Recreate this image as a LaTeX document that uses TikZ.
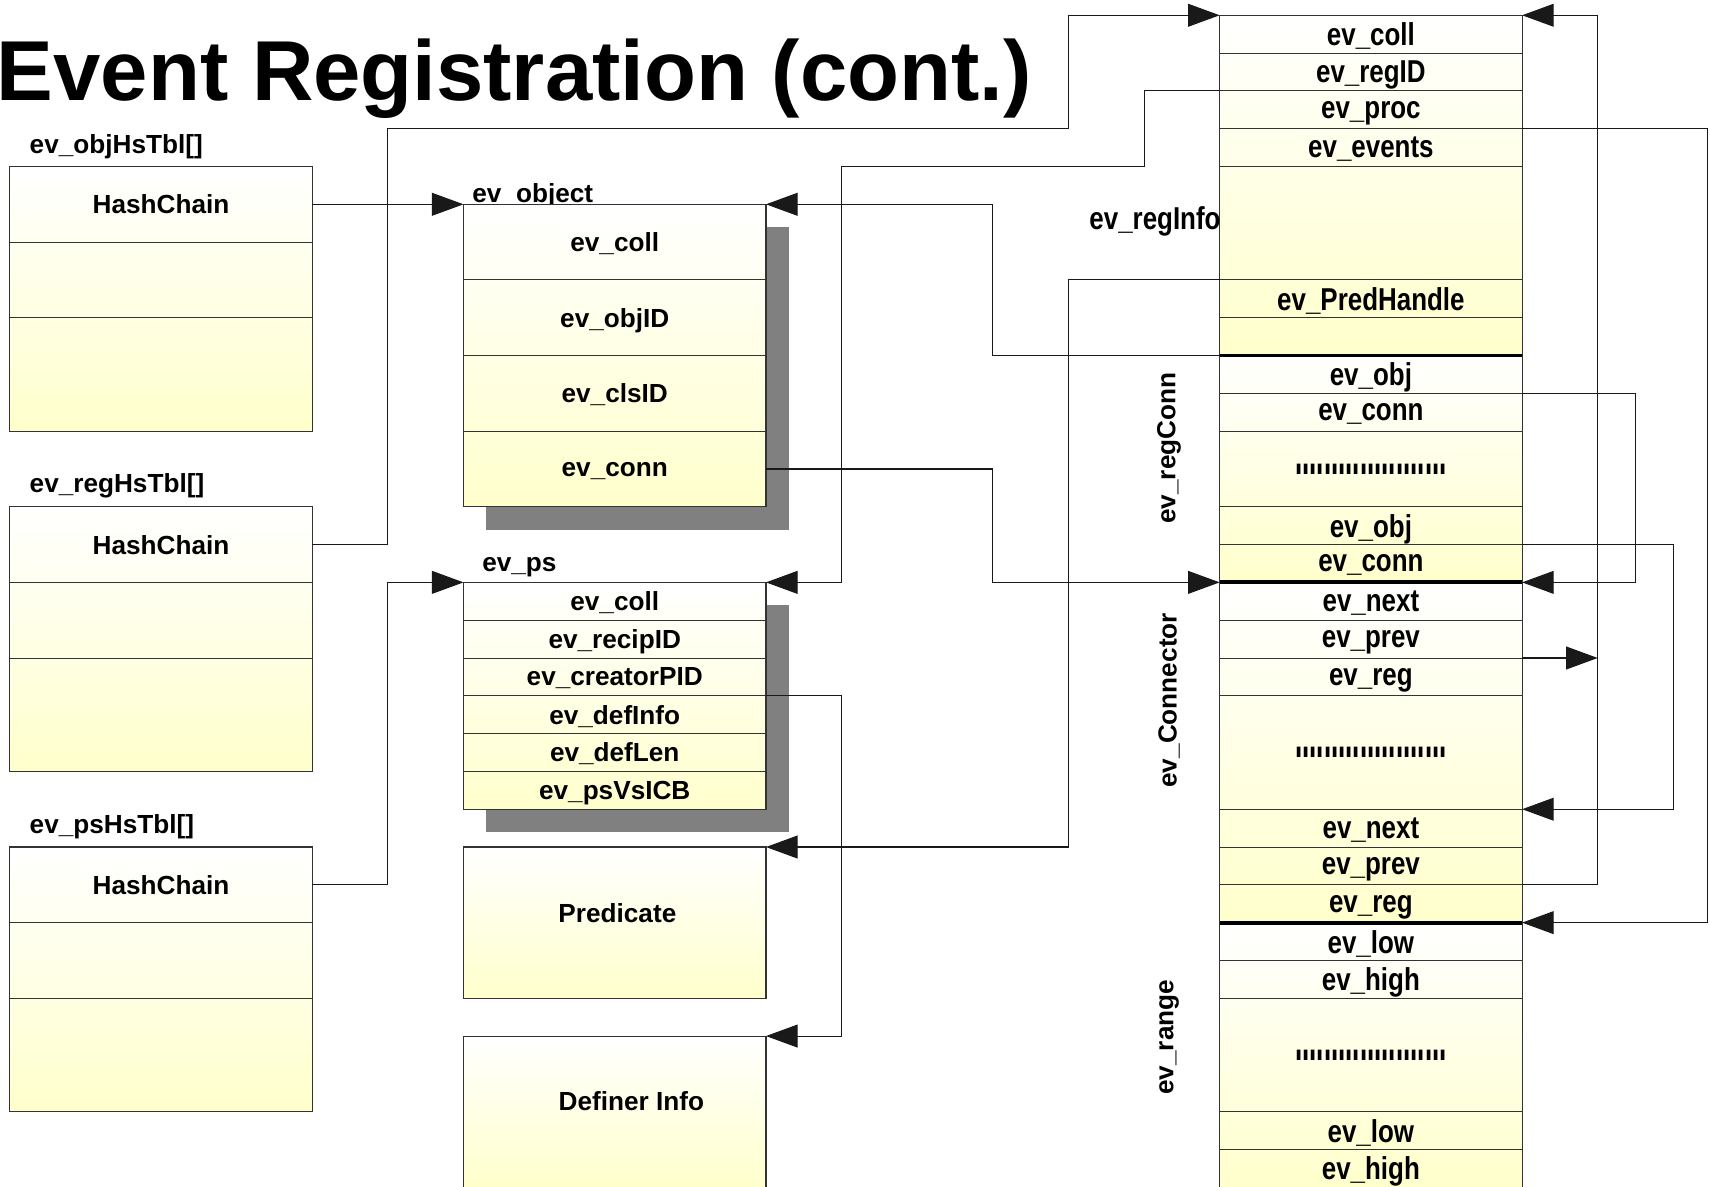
\documentclass[tikz,border=0pt]{standalone}
\usepackage{fontspec}
\usepackage{graphicx}
\setmainfont{Liberation Sans}
\newfontfamily\narrowsf{Liberation Sans}[FakeStretch=0.82]
\usetikzlibrary{arrows.meta,positioning,shadows}
\definecolor{evyellow}{HTML}{FFFFCC}
\definecolor{evshadow}{HTML}{808080}
\newcommand{\gu}{34.667pt} % height of one table row
\newcommand{\midfont}{\fontsize{24}{28}\selectfont\bfseries}
\newcommand{\colfont}{\narrowsf\fontsize{29}{32}\selectfont\bfseries}
\newcommand{\rowdots}{\scalebox{1}[2.2]{.....................}}

\begin{document}
\begin{tikzpicture}[x=\gu,y=-\gu,
    tblbox/.style={draw=black!80,line width=1pt,minimum width=8*\gu,
      minimum height=#1*\gu,inner sep=0pt,outer sep=0pt,anchor=north west,
      top color=white,bottom color=evyellow,font=\midfont},
    slot/.style={draw=black!80,line width=0.8pt,minimum width=8*\gu,
      minimum height=#1*\gu,inner sep=0pt,outer sep=0pt,text depth=0pt,
      font=\midfont},
    rslot/.style={slot=#1,font=\colfont},
    lbl/.style={font=\midfont,inner sep=0pt},
    shadowed/.style={drop shadow={opacity=1,fill=evshadow,
      shadow xshift=21pt,shadow yshift=-21pt}},
    thickrule/.style={line width=3.5pt},
    ptr/.style={draw=black!90,line width=1pt,-{Triangle[length=29pt,width=21pt]}}]
    \useasboundingbox (-0.26,-0.404) rectangle (44.97,30.98); % page size

    \node[anchor=base west,inner sep=0pt,font=\fontsize{78}{80}\selectfont\bfseries]
      (title) at (-0.35,2.26) {Event Registration (cont.)}; % titolo

    % hash tables (left)
    \node[lbl,anchor=base west] (objlbl) at (0.52,3.66) {ev\_objHsTbl[]};
    \node[tblbox=7] (objtbl) at (0,4) {};
    \node[slot=2,anchor=north west] (ot1) at (objtbl.north west) {HashChain};
    \node[slot=2,below=0pt of ot1] (ot2) {};
    \node[slot=3,below=0pt of ot2] (ot3) {};

    \node[lbl,anchor=base west] (reglbl) at (0.52,12.63) {ev\_regHsTbl[]};
    \node[tblbox=7] (regtbl) at (0,13) {};
    \node[slot=2,anchor=north west] (rt1) at (regtbl.north west) {HashChain};
    \node[slot=2,below=0pt of rt1] (rt2) {};
    \node[slot=3,below=0pt of rt2] (rt3) {};

    \node[lbl,anchor=base west] (pslbl) at (0.52,21.63) {ev\_psHsTbl[]};
    \node[tblbox=7] (pstbl) at (0,22) {};
    \node[slot=2,anchor=north west] (pt1) at (pstbl.north west) {HashChain};
    \node[slot=2,below=0pt of pt1] (pt2) {};
    \node[slot=3,below=0pt of pt2] (pt3) {};

    % ev_object and ev_ps (middle)
    \node[lbl,anchor=base west] (objectlbl) at (12.23,4.96) {ev\_object};
    \node[tblbox=8,shadowed] (object) at (12,5) {};
    \node[slot=2,anchor=north west] (oc1) at (object.north west) {ev\_coll};
    \node[slot=2,below=0pt of oc1] (oc2) {ev\_objID};
    \node[slot=2,below=0pt of oc2] (oc3) {ev\_clsID};
    \node[slot=2,below=0pt of oc3] (oc4) {ev\_conn};

    \node[lbl,anchor=base west] (pslbl2) at (12.49,14.71) {ev\_ps};
    \node[tblbox=6,shadowed] (ps) at (12,15) {};
    \node[slot=1,anchor=north west] (ps1) at (ps.north west) {ev\_coll};
    \node[slot=1,below=0pt of ps1] (ps2) {ev\_recipID};
    \node[slot=1,below=0pt of ps2] (ps3) {ev\_creatorPID};
    \node[slot=1,below=0pt of ps3] (ps4) {ev\_defInfo};
    \node[slot=1,below=0pt of ps4] (ps5) {ev\_defLen};
    \node[slot=1,below=0pt of ps5] (ps6) {ev\_psVsICB};

    \node[tblbox=4] (pred) at (12,22) {};
    \node[lbl] (predtxt) at (16.07,23.74) {Predicate};
    \node[tblbox=4] (definer) at (12,27) {};
    \node[lbl] (definertxt) at (16.44,28.73) {Definer Info};

    % registration record (right)
    \node[tblbox=9] (reginfo) at (32,0) {};
    \node[rslot=1,anchor=north west] (ri1) at (reginfo.north west) {ev\_coll};
    \node[rslot=1,below=0pt of ri1] (ri2) {ev\_regID};
    \node[rslot=1,below=0pt of ri2] (ri3) {ev\_proc};
    \node[rslot=1,below=0pt of ri3] (ri4) {ev\_events};
    \node[rslot=3,below=0pt of ri4] (ri5) {};
    \node[rslot=1,below=0pt of ri5] (ri6) {ev\_PredHandle};
    \node[rslot=1,below=0pt of ri6] (ri7) {};

    \node[tblbox=6] (regconn) at (32,9) {};
    \node[rslot=1,anchor=north west] (rc1) at (regconn.north west) {ev\_obj};
    \node[rslot=1,below=0pt of rc1] (rc2) {ev\_conn};
    \node[rslot=2,below=0pt of rc2] (rc3) {\rowdots};
    \node[rslot=1,below=0pt of rc3] (rc4) {ev\_obj};
    \node[rslot=1,below=0pt of rc4] (rc5) {ev\_conn};

    \node[tblbox=9] (connector) at (32,15) {};
    \node[rslot=1,anchor=north west] (cn1) at (connector.north west) {ev\_next};
    \node[rslot=1,below=0pt of cn1] (cn2) {ev\_prev};
    \node[rslot=1,below=0pt of cn2] (cn3) {ev\_reg};
    \node[rslot=3,below=0pt of cn3] (cn4) {\rowdots};
    \node[rslot=1,below=0pt of cn4] (cn5) {ev\_next};
    \node[rslot=1,below=0pt of cn5] (cn6) {ev\_prev};
    \node[rslot=1,below=0pt of cn6] (cn7) {ev\_reg};

    \node[tblbox=7] (range) at (32,24) {};
    \node[rslot=1,anchor=north west] (rg1) at (range.north west) {ev\_low};
    \node[rslot=1,below=0pt of rg1] (rg2) {ev\_high};
    \node[rslot=3,below=0pt of rg2] (rg3) {\rowdots};
    \node[rslot=1,below=0pt of rg3] (rg4) {ev\_low};
    \node[rslot=1,below=0pt of rg4] (rg5) {ev\_high};

    \draw[thickrule] (reginfo.south west) -- (reginfo.south east); % regInfo | regConn
    \draw[thickrule] (regconn.south west) -- (regconn.south east); % regConn | Connector
    \draw[thickrule] (connector.south west) -- (connector.south east); % Connector | range

    \node[lbl,font=\colfont,anchor=east] (reginfolbl) at (32.03,5.45) {ev\_regInfo};
    \node[lbl,rotate=90] (regconnlbl) at (30.66,11.45) {ev\_regConn};
    \node[lbl,rotate=90] (connectorlbl) at (30.66,18.12) {ev\_Connector};
    \node[lbl,rotate=90] (rangelbl) at (30.66,27.03) {ev\_range};

    % vertical lanes of the pointers
    \coordinate (hashlane) at (10,0);
    \coordinate (pslane) at (22,0);
    \coordinate (objlane) at (26,0);
    \coordinate (predlane) at (28,0);
    \coordinate (proclane) at (30,0);
    \coordinate (reglane) at (42,0);
    \coordinate (objconnlane) at (43,0);
    \coordinate (nextlane) at (44,0);
    \coordinate (eventlane) at (44.9,0);

    % pointers
    \draw[ptr] (ot1.east) -- (oc1.north west);
    \draw[ptr] (rt1.east) -| (hashlane |- ri3.south) -- (predlane |- ri3.south)
               |- (ri1.north west);
    \draw[ptr] (pt1.east) -| (hashlane |- ps1.north) -- (ps1.north west);
    \draw[ptr] (ri2.south west) -| (proclane |- ri4.south) -| (pslane |- ps1.north)
               -- (ps1.north east);
    \draw[ptr] (ri7.south west) -| (objlane |- oc1.north) -- (oc1.north east);
    \draw[ptr] (oc4.east) -| (objlane |- cn1.north) -- (cn1.north west);
    \draw[ptr] (ri6.north west) -| (predlane |- pred.north) -- (pred.north east);
    \draw[ptr] (ps3.south east) -| (pslane |- definer.north) -- (definer.north east);
    \draw[ptr] (cn6.south east) -| (reglane |- ri1.north) -- (ri1.north east);
    \draw[ptr] (ri3.south east) -| (eventlane |- rg1.north) -- (rg1.north east);
    \draw[ptr] (rc1.south east) -| (objconnlane |- cn1.north) -- (cn1.north east);
    \draw[ptr] (rc4.south east) -| (nextlane |- cn5.north) -- (cn5.north east);
    \draw[ptr] (cn2.south east) -- (reglane |- cn2.south);
\end{tikzpicture}
\end{document}
